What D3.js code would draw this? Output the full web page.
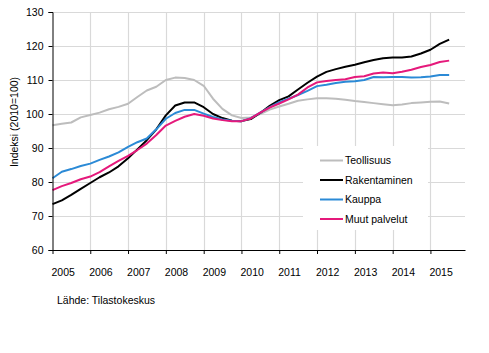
<!DOCTYPE html>
<html>
<head>
<meta charset="utf-8">
<script src="https://cdn.jsdelivr.net/npm/d3@7"></script>
<style>
  html, body { margin: 0; padding: 0; background: #fff; }
  svg { display: block; font-family: "Liberation Sans", Arial, sans-serif; }
</style>
</head>
<body>
<div id="chart"></div>
<script>
(function () {
  'use strict';

  // Quarterly readings (first month of each quarter), index 2010 = 100
  var months = [
    '2005-01', '2005-04', '2005-07', '2005-10', '2006-01', '2006-04', '2006-07', '2006-10',
    '2007-01', '2007-04', '2007-07', '2007-10', '2008-01', '2008-04', '2008-07', '2008-10',
    '2009-01', '2009-04', '2009-07', '2009-10', '2010-01', '2010-04', '2010-07', '2010-10',
    '2011-01', '2011-04', '2011-07', '2011-10', '2012-01', '2012-04', '2012-07', '2012-10',
    '2013-01', '2013-04', '2013-07', '2013-10', '2014-01', '2014-04', '2014-07', '2014-10',
    '2015-01', '2015-04', '2015-07'
  ];

  var teollisuus = [
    96.7, 97.1, 97.5, 99.0, 99.7, 100.4, 101.4, 102.1,
    103.0, 105.0, 106.9, 108.0, 110.0, 110.7, 110.6, 110.0,
    108.3, 104.5, 101.5, 99.6, 98.8, 99.0, 100.0, 101.3,
    102.2, 103.0, 103.9, 104.3, 104.6, 104.6, 104.5, 104.2,
    103.8, 103.5, 103.2, 102.9, 102.6, 102.8, 103.2, 103.4,
    103.6, 103.7, 103.1
  ];

  var rakentaminen = [
    73.5, 74.6, 76.2, 78.0, 79.7, 81.4, 82.8, 84.6,
    87.0, 89.6, 92.3, 95.5, 99.6, 102.5, 103.4, 103.4,
    102.0, 100.0, 98.8, 98.0, 97.9, 98.5, 100.3, 102.4,
    104.1, 105.2, 107.2, 109.2, 111.0, 112.4, 113.2, 113.9,
    114.5, 115.2, 115.9, 116.4, 116.6, 116.6, 116.9, 117.8,
    118.9, 120.6, 121.9
  ];

  var kauppa = [
    81.1, 83.0, 83.8, 84.7, 85.4, 86.5, 87.5, 88.7,
    90.3, 91.7, 92.8, 95.5, 98.6, 100.3, 101.2, 101.2,
    100.1, 99.1, 98.4, 98.0, 97.9, 98.8, 100.4, 102.0,
    103.5, 104.5, 105.6, 106.8, 108.2, 108.6, 109.1, 109.5,
    109.6, 110.0, 110.9, 110.8, 110.9, 110.9, 110.7, 110.8,
    111.0, 111.5, 111.5
  ];

  var muutPalvelut = [
    77.6, 78.8, 79.7, 80.8, 81.6, 82.9, 84.6, 86.2,
    87.7, 89.4, 91.3, 93.8, 96.6, 98.0, 99.2, 100.0,
    99.5, 98.7, 98.2, 97.9, 97.9, 98.7, 100.4, 101.9,
    103.1, 104.3, 105.7, 107.8, 109.3, 109.7, 110.0, 110.2,
    110.9, 111.1, 111.9, 112.2, 112.0, 112.4, 113.0, 113.8,
    114.4, 115.3, 115.7
  ];

  var seriesNames = ['Teollisuus', 'Rakentaminen', 'Kauppa', 'Muut palvelut'];
  var seriesValues = [teollisuus, rakentaminen, kauppa, muutPalvelut];
  var seriesColors = ['#bdbdbd', '#000000', '#2b8ad6', '#e5197b'];

  var yTicks = [60, 70, 80, 90, 100, 110, 120, 130];
  var yearLabels = ['2005', '2006', '2007', '2008', '2009', '2010',
    '2011', '2012', '2013', '2014', '2015'];

  var width = 489;
  var height = 353;
  var left = 52.5, right = 465, top = 12, bottom = 250;

  var parseMonth = d3.timeParse('%Y-%m');

  var x = d3.scaleTime()
    .domain([parseMonth('2005-01'), parseMonth('2015-12')])
    .range([left, right]);

  var y = d3.scaleLinear()
    .domain([60, 130])
    .range([bottom, top]);

  var svg = d3.select('#chart')
    .append('svg')
    .attr('width', width)
    .attr('height', height);

  // Gridlines
  var grid = svg.append('g').attr('class', 'grid');
  grid.selectAll('line.h')
    .data(yTicks.slice(1))
    .enter().append('line')
    .attr('x1', left).attr('x2', right)
    .attr('y1', function (d) { return Math.round(y(d)) + 0.5; })
    .attr('y2', function (d) { return Math.round(y(d)) + 0.5; })
    .attr('stroke', '#d9d9d9')
    .attr('stroke-width', 1.2);

  grid.selectAll('line.v')
    .data(yearLabels.slice(1))
    .enter().append('line')
    .attr('x1', function (d) { return Math.round(x(parseMonth(d + '-01'))) + 0.5; })
    .attr('x2', function (d) { return Math.round(x(parseMonth(d + '-01'))) + 0.5; })
    .attr('y1', top).attr('y2', bottom)
    .attr('stroke', '#d9d9d9')
    .attr('stroke-width', 1.2);

  // Series lines
  var line = d3.line()
    .x(function (d) { return x(d.date); })
    .y(function (d) { return y(d.value); });

  seriesValues.forEach(function (vals, i) {
    var pts = vals.map(function (v, j) {
      return { date: parseMonth(months[j]), value: v };
    });
    svg.append('path')
      .datum(pts)
      .attr('d', line)
      .attr('fill', 'none')
      .attr('stroke', seriesColors[i])
      .attr('stroke-width', 2)
      .attr('stroke-linejoin', 'round');
  });

  // Y axis
  var yAxis = svg.append('g')
    .attr('transform', 'translate(' + left + ',0)')
    .call(d3.axisLeft(y).tickValues(yTicks).tickSize(4).tickPadding(5));
  yAxis.select('.domain').attr('stroke', '#000');
  yAxis.selectAll('.tick line').attr('stroke', '#000');
  yAxis.selectAll('text')
    .attr('font-size', '10.5px')
    .attr('font-family', '"Liberation Sans", Arial, sans-serif')
    .attr('fill', '#000');

  // X axis
  var xAxis = svg.append('g')
    .attr('transform', 'translate(0,' + bottom + ')')
    .call(d3.axisBottom(x)
      .tickValues(yearLabels.map(function (d) { return parseMonth(d + '-01'); }))
      .tickSize(4)
      .tickSizeOuter(0)
      .tickFormat(d3.timeFormat('%Y')));
  xAxis.select('.domain').attr('stroke', '#000');
  xAxis.selectAll('.tick line').attr('stroke', '#000');
  xAxis.selectAll('text')
    .attr('font-size', '10.5px')
    .attr('font-family', '"Liberation Sans", Arial, sans-serif')
    .attr('fill', '#000')
    .attr('text-anchor', 'start')
    .attr('dx', '-1.5')
    .attr('y', 19)
    .attr('dy', '0.71em');

  // Y axis title
  svg.append('text')
    .attr('transform', 'translate(18,122) rotate(-90)')
    .attr('text-anchor', 'middle')
    .attr('font-size', '10.5px')
    .attr('fill', '#000')
    .text('Indeksi (2010=100)');

  // Legend
  var legend = svg.append('g').attr('class', 'legend');
  legend.append('rect')
    .attr('x', 303).attr('y', 146)
    .attr('width', 125).attr('height', 84)
    .attr('fill', '#fff');

  seriesNames.forEach(function (name, i) {
    var ly = 160.5 + i * 19.5;
    legend.append('line')
      .attr('x1', 320).attr('x2', 343)
      .attr('y1', ly).attr('y2', ly)
      .attr('stroke', seriesColors[i])
      .attr('stroke-width', 2);
    legend.append('text')
      .attr('x', 345).attr('y', ly)
      .attr('dy', '0.35em')
      .attr('font-size', '10.5px')
      .attr('fill', '#000')
      .text(name);
  });

  // Source
  svg.append('text')
    .attr('x', 57).attr('y', 304)
    .attr('font-size', '10.5px')
    .attr('fill', '#000')
    .text('Lähde: Tilastokeskus');
})();
</script>
</body>
</html>
